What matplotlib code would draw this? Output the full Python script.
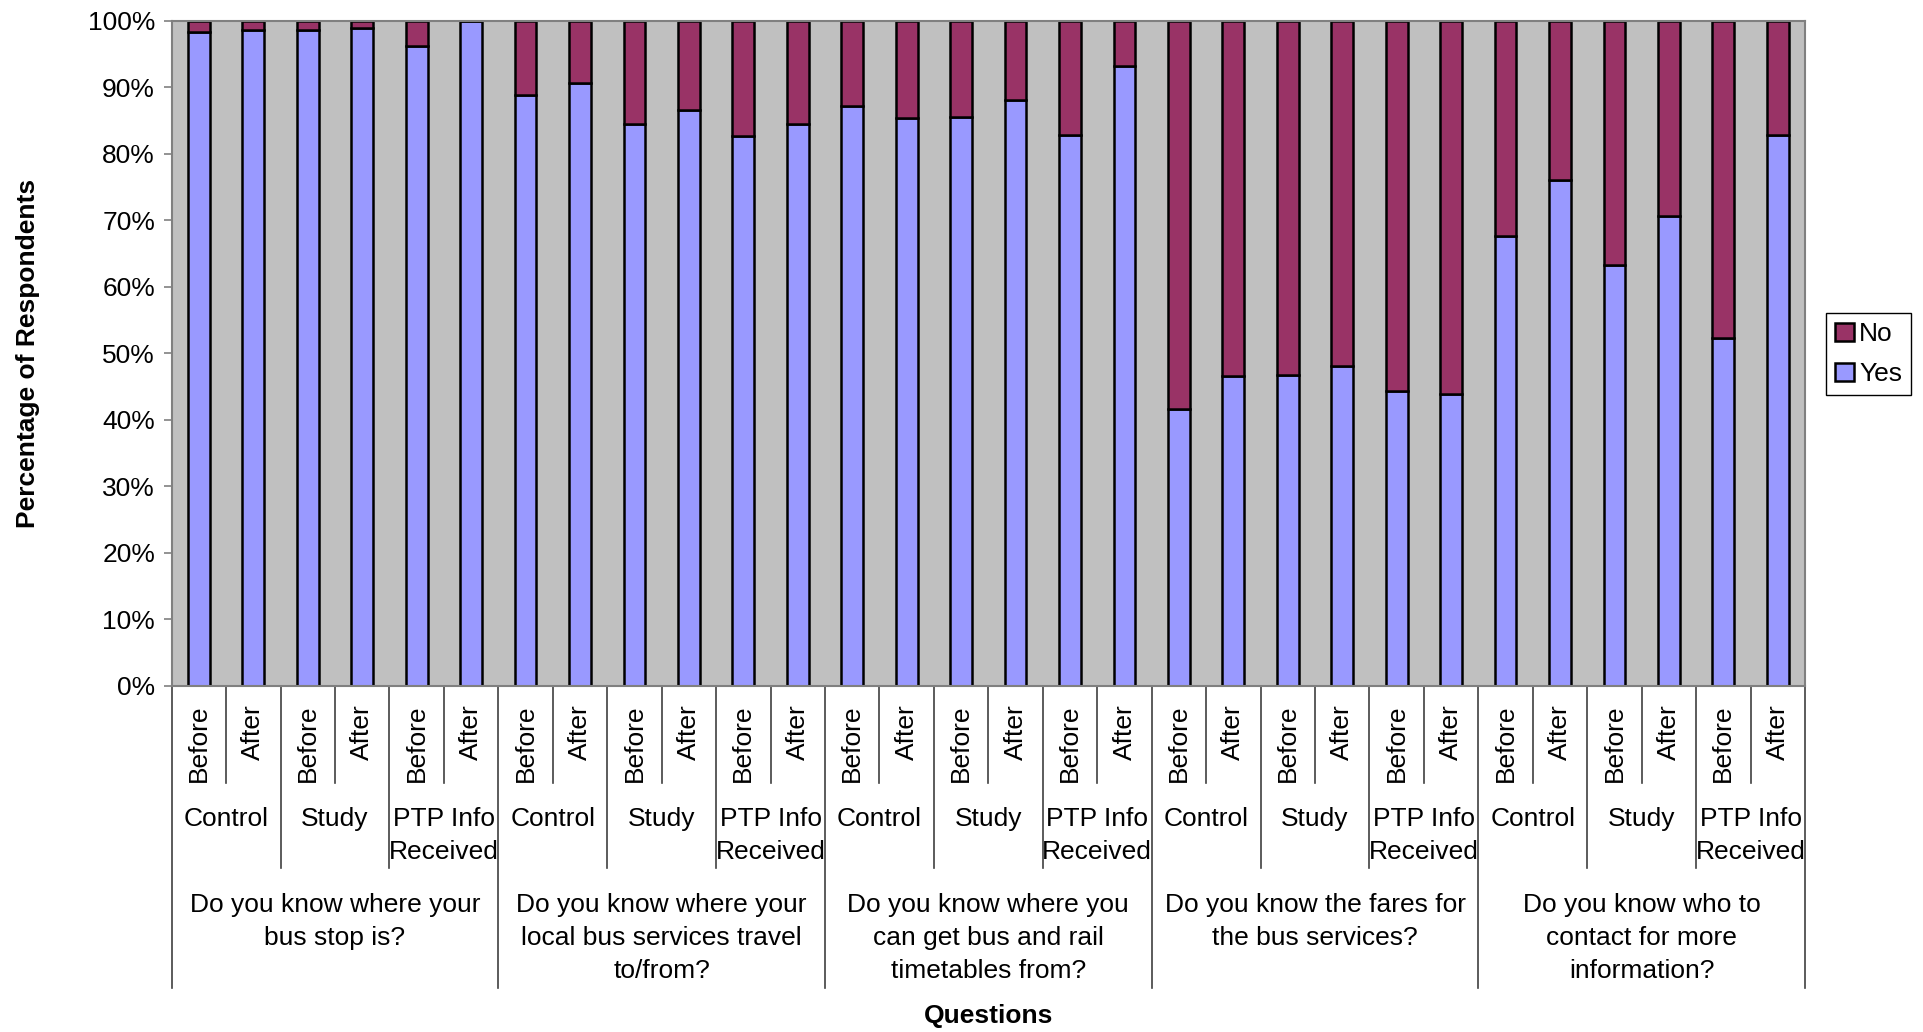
import matplotlib
matplotlib.use("Agg")
import matplotlib.pyplot as plt
from matplotlib.patches import Patch
from matplotlib.ticker import FuncFormatter

plt.rcParams["font.family"] = ["Liberation Sans", "DejaVu Sans"]

# Chart data
questions = [
    "Do you know where your\nbus stop is?",
    "Do you know where your\nlocal bus services travel\nto/from?",
    "Do you know where you\ncan get bus and rail\ntimetables from?",
    "Do you know the fares for\nthe bus services?",
    "Do you know who to\ncontact for more\ninformation?",
]
groups = ["Control", "Study", "PTP Info\nReceived"]
periods = ["Before", "After"]

yes = [98.3, 98.6, 98.6, 98.9, 96.2, 100.0,
       88.8, 90.6, 84.5, 86.6, 82.6, 84.5,
       87.2, 85.4, 85.6, 88.1, 82.8, 93.2,
       41.6, 46.5, 46.7, 48.0, 44.3, 43.9,
       67.6, 76.0, 63.2, 70.7, 52.3, 82.8]
no = [1.7, 1.4, 1.4, 1.1, 3.8, 0.0,
      11.2, 9.4, 15.5, 13.4, 17.4, 15.5,
      12.8, 14.6, 14.4, 11.9, 17.2, 6.8,
      58.4, 53.5, 53.3, 52.0, 55.7, 56.1,
      32.4, 24.0, 36.8, 29.3, 47.7, 17.2]

yes_color = "#9999FF"
no_color = "#993366"
fs = 19

W, H = 1923, 1032
fig = plt.figure(figsize=(W / 100, H / 100), dpi=100)
ax_left, ax_right, ax_top, ax_bot = 171.7, 1805, 20.8, 685.6
ax = fig.add_axes([ax_left / W, 1 - ax_bot / H, (ax_right - ax_left) / W, (ax_bot - ax_top) / H])
ax.set_facecolor("#C0C0C0")

n = len(yes)
x = list(range(n))
ax.bar(x, yes, width=0.4, color=yes_color, edgecolor="black", linewidth=1.8, label="Yes")
ax.bar(x, no, width=0.4, bottom=yes, color=no_color, edgecolor="black", linewidth=1.8, label="No")

ax.set_xlim(-0.5, n - 0.5)
ax.set_ylim(0, 100)
ax.set_yticks(range(0, 101, 10))
ax.yaxis.set_major_formatter(FuncFormatter(lambda v, p: f"{int(v)}%"))
ax.tick_params(axis="y", labelsize=fs, length=6, width=1.2, color="#808080", pad=6)
ax.set_xticks([])
for s in ax.spines.values():
    s.set_color("#808080")
    s.set_linewidth(1.5)

# hierarchical category axis below the plot
tr = ax.get_xaxis_transform()
h = ax_bot - ax_top
def ay(ypix):
    return (ax_bot - ypix) / h

for i in range(n):
    ax.text(x[i], ay(704), periods[i % 2], rotation=90, ha="center", va="top",
            fontsize=fs, transform=tr, clip_on=False)

for b in range(n + 1):
    xb = b - 0.5
    if b % 6 == 0:
        y_end = ay(988)
    elif b % 2 == 0:
        y_end = ay(868)
    else:
        y_end = ay(783)
    ax.plot([xb, xb], [0, y_end], color="#404040", lw=1.2, transform=tr, clip_on=False)

for q in range(len(questions)):
    for g in range(len(groups)):
        xc = q * 6 + g * 2 + 0.5
        ax.text(xc, ay(807), groups[g], ha="center", va="top", fontsize=fs,
                linespacing=1.45, transform=tr, clip_on=False)
    ax.text(q * 6 + 2.5, ay(893), questions[q], ha="center", va="top", fontsize=fs,
            linespacing=1.47, transform=tr, clip_on=False)

fig.text(ax_left / W + (ax_right - ax_left) / W / 2, 1 - 1016 / H, "Questions",
         ha="center", va="center", fontsize=fs, fontweight="bold")
fig.text(28 / W, 1 - 353 / H, "Percentage of Respondents", rotation=90,
         ha="center", va="center", fontsize=fs, fontweight="bold")

handles = [Patch(facecolor=no_color, edgecolor="black", linewidth=1.8, label="No"),
           Patch(facecolor=yes_color, edgecolor="black", linewidth=1.8, label="Yes")]
leg = fig.legend(handles=handles, loc="upper left", bbox_to_anchor=(1826 / W, 1 - 313 / H),
                 borderaxespad=0, fontsize=fs, frameon=True, fancybox=False,
                 edgecolor="black", framealpha=1, handlelength=0.7, handleheight=0.7,
                 handletextpad=0.2, borderpad=0.35, labelspacing=0.6)
leg.get_frame().set_linewidth(1.0)

fig.savefig("out.png", dpi=100)
